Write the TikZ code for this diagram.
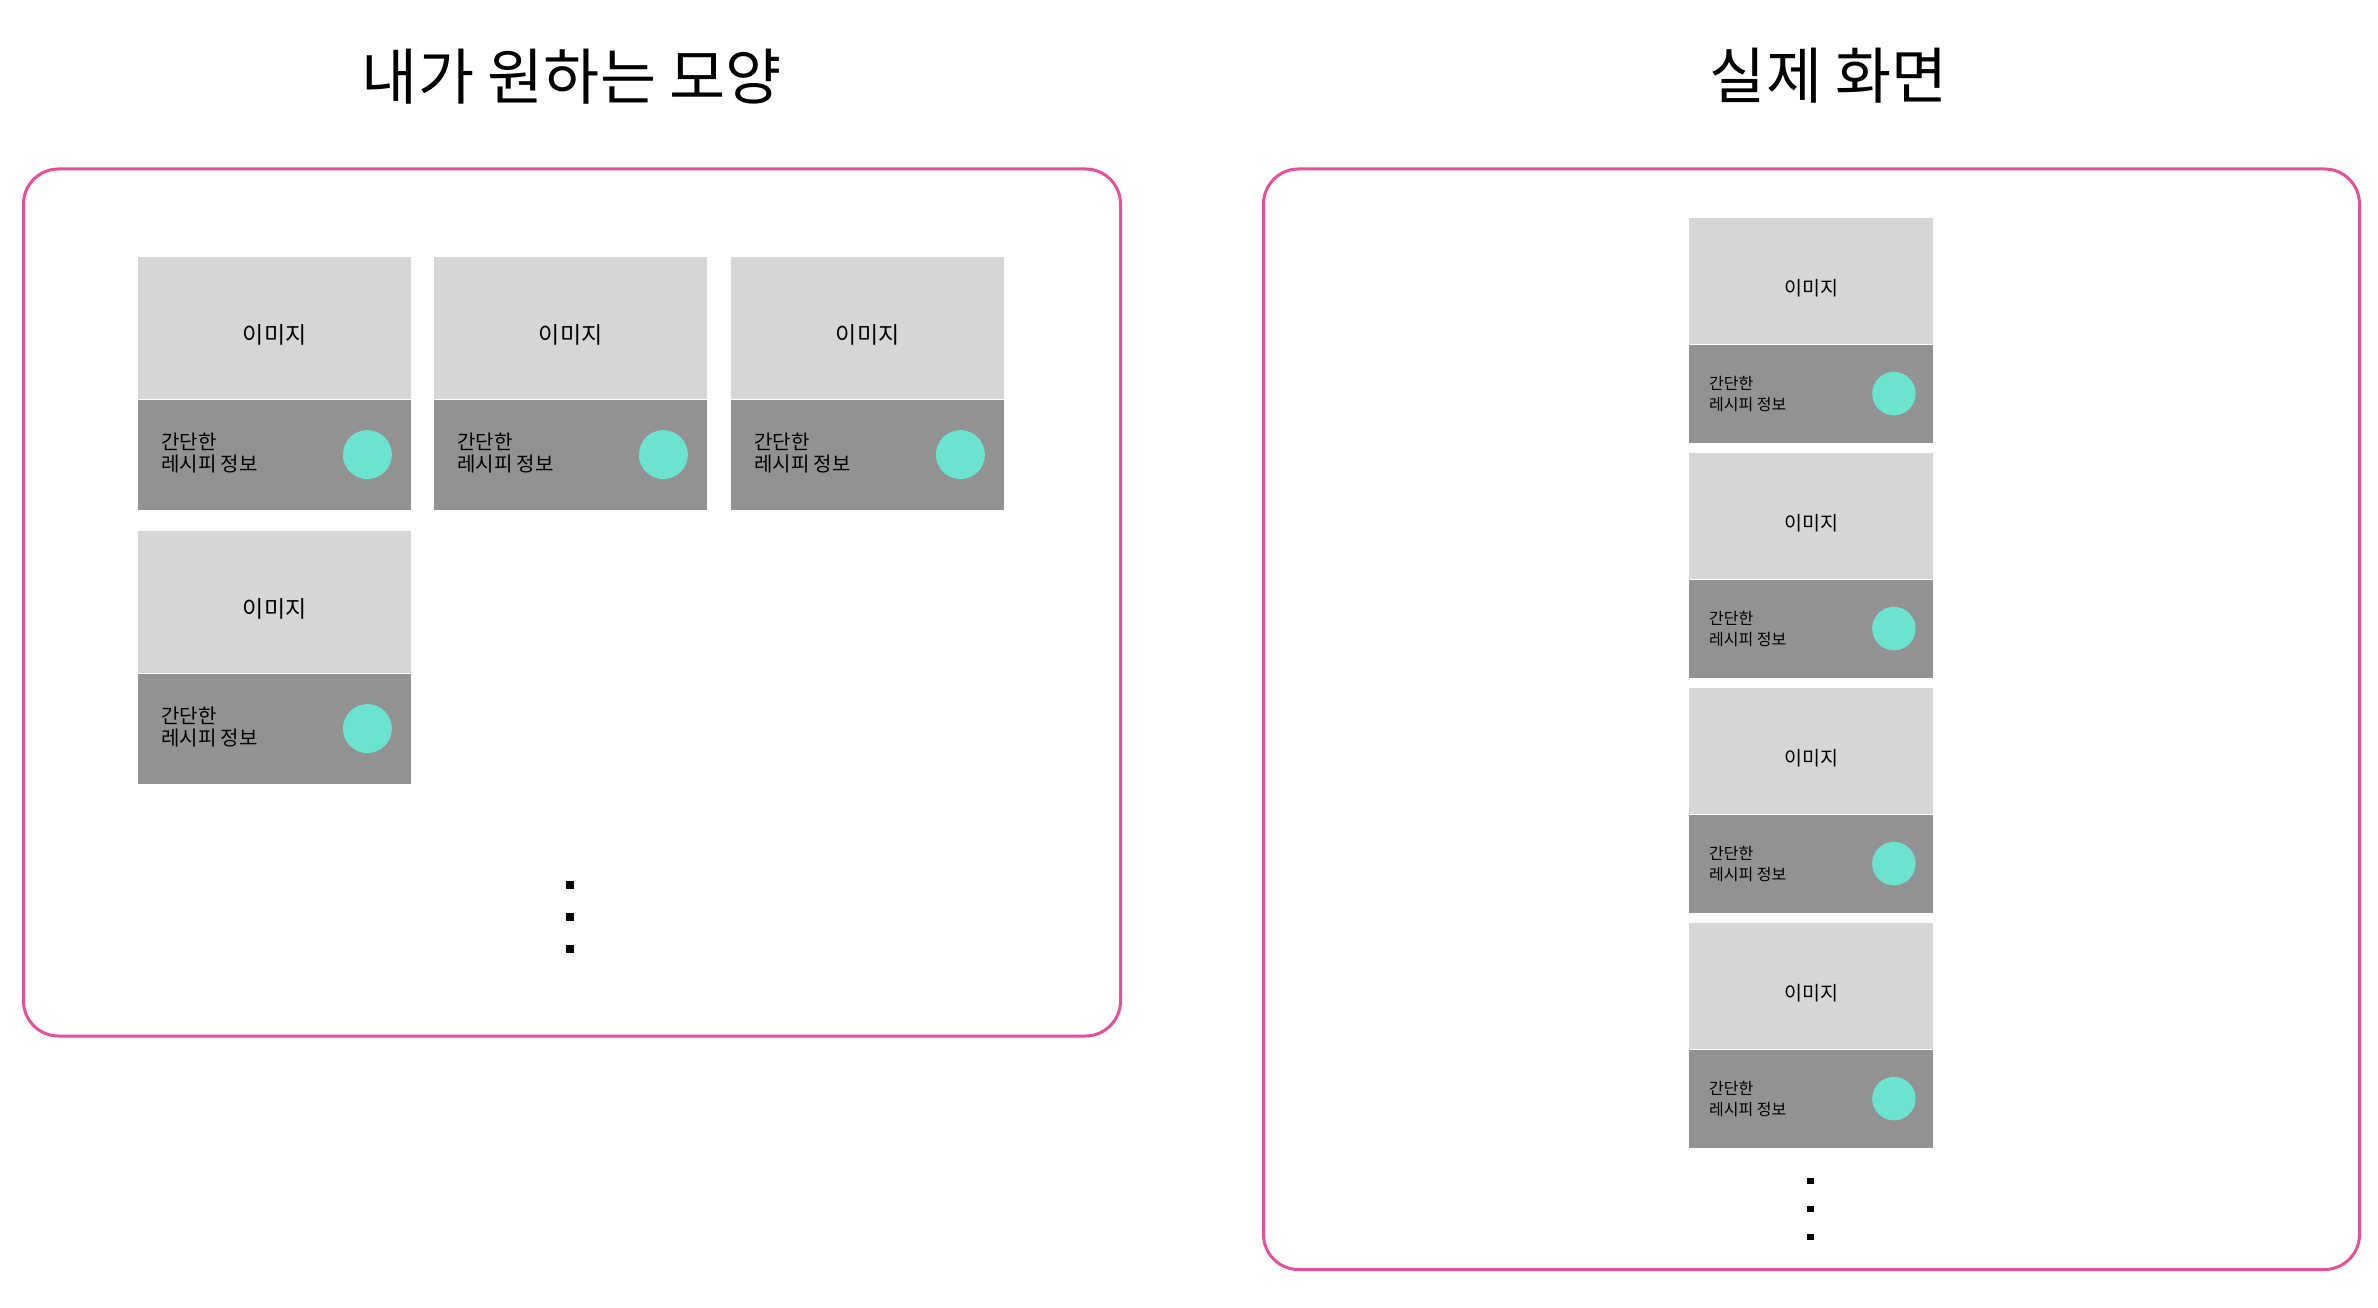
\documentclass[tikz,border=0pt]{standalone}
\usepackage{fontspec}
\setmainfont{Noto Sans CJK KR}
\definecolor{pinkb}{HTML}{E94E9B}
\definecolor{imggray}{HTML}{D6D6D6}
\definecolor{infogray}{HTML}{929292}
\definecolor{mint}{HTML}{6CE3CF}
\tikzset{
  panel/.style={draw=pinkb, line width=3pt, rounded corners=35pt, inner sep=0pt, anchor=north west},
  imgbox/.style={fill=imggray, draw=none, inner sep=0pt, anchor=north west},
  infobox/.style={fill=infogray, draw=none, inner sep=0pt, anchor=north west},
  badge/.style={circle, fill=mint, draw=none, inner sep=0pt},
  titletext/.style={inner sep=0pt, font=\fontsize{61}{66}\selectfont},
  imglabelL/.style={inner sep=0pt, font=\fontsize{23}{26}\selectfont},
  infolabelL/.style={inner sep=0pt, anchor=west, align=left, font=\fontsize{20}{22}\selectfont},
  imglabelR/.style={inner sep=0pt, font=\fontsize{19.5}{22}\selectfont},
  infolabelR/.style={inner sep=0pt, anchor=west, align=left, font=\fontsize{16}{21}\selectfont},
  dotL/.style={fill=black, draw=none, inner sep=0pt, minimum size=7.5pt},
  dotR/.style={fill=black, draw=none, inner sep=0pt, minimum size=6.5pt},
}
\newcommand\leftcard[3]{%
  \node[imgbox, minimum width=273pt, minimum height=142pt] (#1i) at (#2,#3) {};
  \node[infobox, minimum width=273pt, minimum height=110pt] (#1b) at (#1i.south west) {};
  \node[imglabelL] (#1t) at ([yshift=-7pt]#1i.center) {이미지};
  \node[infolabelL] (#1s) at ([xshift=23pt,yshift=2pt]#1b.west) {간단한\\레시피 정보};
  \node[badge, minimum size=49pt] (#1c) at ([xshift=-44pt]#1b.east) {};
}
\newcommand\rightcard[3]{%
  \node[imgbox, minimum width=244pt, minimum height=126pt] (#1i) at (#2,#3) {};
  \node[infobox, minimum width=244pt, minimum height=98pt] (#1b) at (#1i.south west) {};
  \node[imglabelR] (#1t) at ([yshift=-7pt]#1i.center) {이미지};
  \node[infolabelR] (#1s) at ([xshift=20pt]#1b.west) {간단한\\레시피 정보};
  \node[badge, minimum size=43.5pt] (#1c) at ([xshift=-39.5pt]#1b.east) {};
}
\begin{document}
\begin{tikzpicture}[x=1pt,y=-1pt]
  \path[use as bounding box, fill=white] (0,0) rectangle (2378,1308);
  % titles
  \node[titletext] (title1) at (572,77) {내가 원하는 모양};
  \node[titletext] (title2) at (1829,76) {실제 화면};
  % panels
  \node[panel, minimum width=1097pt, minimum height=867pt] (leftpanel) at (22,167.5) {};
  \node[panel, minimum width=1096pt, minimum height=1100.5pt] (rightpanel) at (1262,167.5) {};
  % left grid
  \leftcard{la}{138}{257}
  \leftcard{lb}{434}{257}
  \leftcard{lc}{731}{257}
  \leftcard{ld}{138}{531}
  \node[dotL] (ldot1) at (570,885) {};
  \node[dotL] (ldot2) at (570,917) {};
  \node[dotL] (ldot3) at (570,949) {};
  % right list
  \rightcard{ra}{1689}{218}
  \rightcard{rb}{1689}{453}
  \rightcard{rc}{1689}{688}
  \rightcard{rd}{1689}{923}
  \node[dotR] (rdot1) at (1810.5,1181) {};
  \node[dotR] (rdot2) at (1810.5,1209) {};
  \node[dotR] (rdot3) at (1810.5,1237) {};
\end{tikzpicture}
\end{document}
